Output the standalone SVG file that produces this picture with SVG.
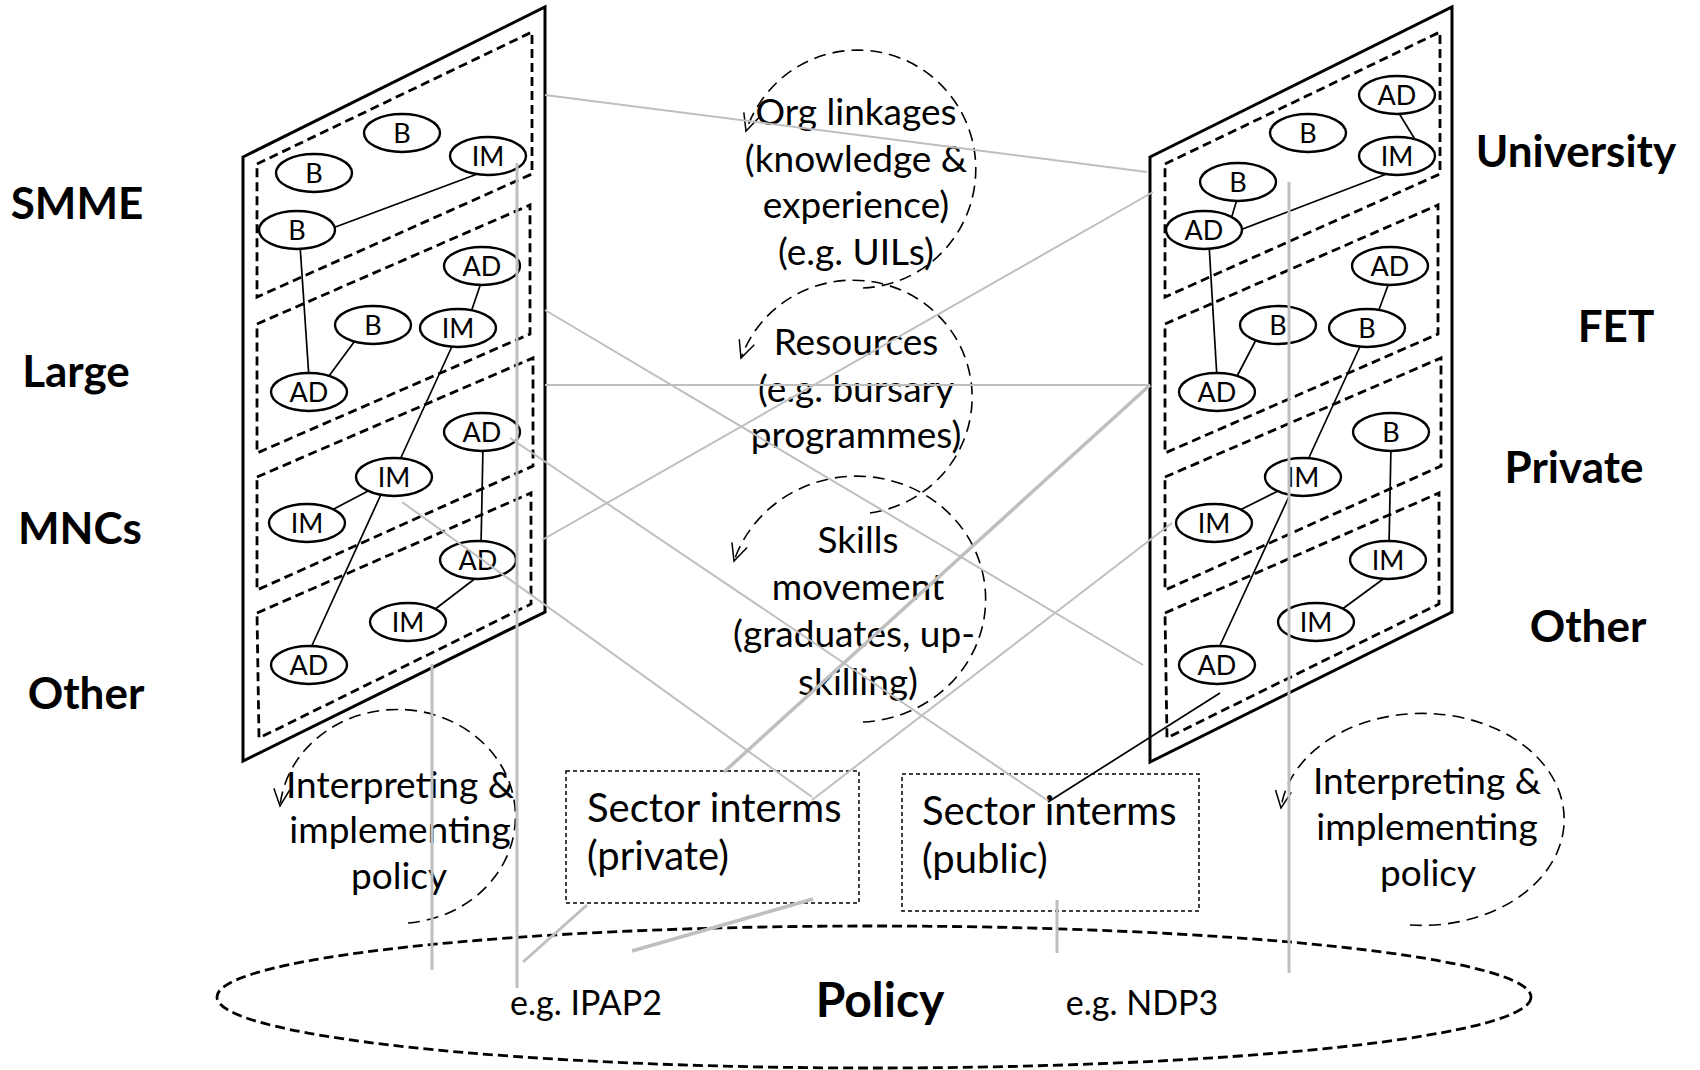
<svg xmlns="http://www.w3.org/2000/svg" width="1700" height="1070" viewBox="0 0 1700 1070">
<defs>
<style>
.panel{fill:#fff;stroke:#000;stroke-width:3}
.band{fill:none;stroke:#000;stroke-width:2.8;stroke-dasharray:9 5}
.nd{fill:#fff;stroke:#000;stroke-width:2.4}
.nt{font-family:Lato,"Liberation Sans",sans-serif;font-size:27px;text-anchor:middle;fill:#000}
.edge{stroke:#000;stroke-width:1.7;fill:none}
.lbl{font-family:Lato,"Liberation Sans",sans-serif;font-weight:bold;font-size:44px;text-anchor:middle;fill:#000}
.mt{font-family:Lato,"Liberation Sans",sans-serif;font-size:37px;text-anchor:middle;fill:#000}
.st{font-family:Lato,"Liberation Sans",sans-serif;font-size:40px;fill:#000}
.pt{font-family:Lato,"Liberation Sans",sans-serif;font-size:34px;text-anchor:middle;fill:#000}
.cyc{fill:none;stroke:#000;stroke-width:1.6;stroke-dasharray:12 7}
.box{fill:none;stroke:#000;stroke-width:1.5;stroke-dasharray:4 3}
.gl{stroke:#bfbfbf;stroke-width:2;fill:none}
.gt{stroke:#bfbfbf;stroke-width:3.5;fill:none}
.gv{stroke:#bfbfbf;stroke-width:3;fill:none}
.bl{stroke:#000;stroke-width:1.7;fill:none}
</style>
<marker id="arr" viewBox="0 0 20 20" refX="18" refY="10" markerWidth="20" markerHeight="20" markerUnits="userSpaceOnUse" orient="auto">
<path d="M1,2 L18,10 L1,18" fill="none" stroke="#000" stroke-width="1.5"/>
</marker>
</defs>
<rect width="1700" height="1070" fill="#fff"/>

<!-- Left panel -->
<g id="panel-left">
<polygon class="panel" points="243,157 545,7 545,612 243,761"/>
<polygon class="band" points="257,164 532,32 532,174 257,297"/>
<polygon class="band" points="257,324 530,205 530,334 257,453"/>
<polygon class="band" points="257,477 533,358 533,466 257,590"/>
<polygon class="band" points="257,613 531,493 531,604 259,738"/>
</g>
<g id="panel-right">
<polygon class="panel" points="1150,157 1452,7 1452,612 1150,762"/>
<polygon class="band" points="1165,164 1440,32 1440,174 1165,297"/>
<polygon class="band" points="1165,324 1438,205 1438,334 1165,453"/>
<polygon class="band" points="1165,477 1441,358 1441,466 1165,590"/>
<polygon class="band" points="1165,613 1439,493 1439,604 1167,738"/>
</g>

<g id="node-edges">
<path class="edge" d="M330,229 L488,170"/>
<path class="edge" d="M300,245 L309,378"/>
<path class="edge" d="M357,338 L326,380"/>
<path class="edge" d="M482,280 L469,318"/>
<path class="edge" d="M454,342 L398,464"/>
<path class="edge" d="M370,490 L330,511"/>
<path class="edge" d="M383,490 L309,652"/>
<path class="edge" d="M483,446 L481,546"/>
<path class="edge" d="M481,574 L434,610"/>
<path class="edge" d="M1397,110 L1419,146"/>
<path class="edge" d="M1238,196 L1232,216"/>
<path class="edge" d="M1240,230 L1397,170"/>
<path class="edge" d="M1209,244 L1217,378"/>
<path class="edge" d="M1257,338 L1235,380"/>
<path class="edge" d="M1390,280 L1377,315"/>
<path class="edge" d="M1363,340 L1306,464"/>
<path class="edge" d="M1280,490 L1238,511"/>
<path class="edge" d="M1292,490 L1217,652"/>
<path class="edge" d="M1391,446 L1389,546"/>
<path class="edge" d="M1390,574 L1341,610"/>
</g>

<!-- Left nodes -->
<g id="L1"><ellipse class="nd" cx="402" cy="133" rx="38" ry="19"/><text class="nt" x="402" y="143">B</text></g>
<g id="L2"><ellipse class="nd" cx="314" cy="173" rx="38" ry="19"/><text class="nt" x="314" y="183">B</text></g>
<g id="L3"><ellipse class="nd" cx="488" cy="156" rx="38" ry="19"/><text class="nt" x="488" y="166">IM</text></g>
<g id="L4"><ellipse class="nd" cx="297" cy="230" rx="38" ry="19"/><text class="nt" x="297" y="240">B</text></g>
<g id="L5"><ellipse class="nd" cx="482" cy="266" rx="38" ry="19"/><text class="nt" x="482" y="276">AD</text></g>
<g id="L6"><ellipse class="nd" cx="373" cy="325" rx="38" ry="19"/><text class="nt" x="373" y="335">B</text></g>
<g id="L7"><ellipse class="nd" cx="458" cy="328" rx="38" ry="19"/><text class="nt" x="458" y="338">IM</text></g>
<g id="L8"><ellipse class="nd" cx="309" cy="392" rx="38" ry="19"/><text class="nt" x="309" y="402">AD</text></g>
<g id="L9"><ellipse class="nd" cx="482" cy="432" rx="38" ry="19"/><text class="nt" x="482" y="442">AD</text></g>
<g id="L10"><ellipse class="nd" cx="394" cy="477" rx="38" ry="19"/><text class="nt" x="394" y="487">IM</text></g>
<g id="L11"><ellipse class="nd" cx="307" cy="523" rx="38" ry="19"/><text class="nt" x="307" y="533">IM</text></g>
<g id="L12"><ellipse class="nd" cx="478" cy="560" rx="38" ry="19"/><text class="nt" x="478" y="570">AD</text></g>
<g id="L13"><ellipse class="nd" cx="408" cy="622" rx="38" ry="19"/><text class="nt" x="408" y="632">IM</text></g>
<g id="L14"><ellipse class="nd" cx="309" cy="665" rx="38" ry="19"/><text class="nt" x="309" y="675">AD</text></g>

<!-- Right nodes -->
<g id="R1"><ellipse class="nd" cx="1397" cy="95" rx="38" ry="19"/><text class="nt" x="1397" y="105">AD</text></g>
<g id="R2"><ellipse class="nd" cx="1308" cy="133" rx="38" ry="19"/><text class="nt" x="1308" y="143">B</text></g>
<g id="R3"><ellipse class="nd" cx="1397" cy="156" rx="38" ry="19"/><text class="nt" x="1397" y="166">IM</text></g>
<g id="R4"><ellipse class="nd" cx="1238" cy="182" rx="38" ry="19"/><text class="nt" x="1238" y="192">B</text></g>
<g id="R5"><ellipse class="nd" cx="1204" cy="230" rx="38" ry="19"/><text class="nt" x="1204" y="240">AD</text></g>
<g id="R6"><ellipse class="nd" cx="1390" cy="266" rx="38" ry="19"/><text class="nt" x="1390" y="276">AD</text></g>
<g id="R7"><ellipse class="nd" cx="1278" cy="325" rx="38" ry="19"/><text class="nt" x="1278" y="335">B</text></g>
<g id="R8"><ellipse class="nd" cx="1367" cy="328" rx="38" ry="19"/><text class="nt" x="1367" y="338">B</text></g>
<g id="R9"><ellipse class="nd" cx="1217" cy="392" rx="38" ry="19"/><text class="nt" x="1217" y="402">AD</text></g>
<g id="R10"><ellipse class="nd" cx="1391" cy="432" rx="38" ry="19"/><text class="nt" x="1391" y="442">B</text></g>
<g id="R11"><ellipse class="nd" cx="1303" cy="477" rx="38" ry="19"/><text class="nt" x="1303" y="487">IM</text></g>
<g id="R12"><ellipse class="nd" cx="1214" cy="523" rx="38" ry="19"/><text class="nt" x="1214" y="533">IM</text></g>
<g id="R13"><ellipse class="nd" cx="1388" cy="560" rx="38" ry="19"/><text class="nt" x="1388" y="570">IM</text></g>
<g id="R14"><ellipse class="nd" cx="1316" cy="622" rx="38" ry="19"/><text class="nt" x="1316" y="632">IM</text></g>
<g id="R15"><ellipse class="nd" cx="1217" cy="665" rx="38" ry="19"/><text class="nt" x="1217" y="675">AD</text></g>

<!-- Side labels -->
<g id="labels-left">
<text class="lbl" x="77" y="219">SMME</text>
<text class="lbl" x="76" y="387">Large</text>
<text class="lbl" x="80" y="544">MNCs</text>
<text class="lbl" x="86" y="709">Other</text>
</g>
<g id="labels-right">
<text class="lbl" x="1576" y="167">University</text>
<text class="lbl" x="1616" y="342">FET</text>
<text class="lbl" x="1574" y="483">Private</text>
<text class="lbl" x="1588" y="642">Other</text>
</g>

<!-- Cycles -->
<g id="cycle-org">
<path class="cyc" d="M863,288 A118,119 0 1,0 746,131" marker-end="url(#arr)"/>
<text class="mt" x="856" y="125">Org linkages</text>
<text class="mt" x="856" y="172">(knowledge &amp;</text>
<text class="mt" x="856" y="218">experience)</text>
<text class="mt" x="856" y="265">(e.g. UILs)</text>
</g>
<g id="cycle-resources">
<path class="cyc" d="M870,513 A119,117 0 1,0 741,358" marker-end="url(#arr)"/>
<text class="mt" x="856" y="355">Resources</text>
<text class="mt" x="856" y="402">(e.g. bursary</text>
<text class="mt" x="856" y="448">programmes)</text>
</g>
<g id="cycle-skills">
<path class="cyc" d="M863,722 A129,123 0 1,0 734,561" marker-end="url(#arr)"/>
<text class="mt" x="858" y="553">Skills</text>
<text class="mt" x="858" y="600">movement</text>
<text class="mt" x="854" y="647">(graduates, up-</text>
<text class="mt" x="858" y="695">skilling)</text>
</g>
<g id="cycle-interp-left">
<path class="cyc" d="M408,923 A118,107 0 1,0 280,806" marker-end="url(#arr)"/>
<text class="mt" x="400" y="798">Interpreting &amp;</text>
<text class="mt" x="400" y="843">implementing</text>
<text class="mt" x="399" y="889">policy</text>
</g>
<g id="cycle-interp-right">
<path class="cyc" d="M1410,925 A142,106 0 1,0 1281,808" marker-end="url(#arr)"/>
<text class="mt" x="1427" y="794">Interpreting &amp;</text>
<text class="mt" x="1427" y="840">implementing</text>
<text class="mt" x="1428" y="886">policy</text>
</g>

<!-- Sector boxes -->
<g id="sector-private">
<rect class="box" x="566" y="771" width="293" height="132"/>
<text class="st" x="587" y="822">Sector interms</text>
<text class="st" x="587" y="870">(private)</text>
</g>
<g id="sector-public">
<rect class="box" x="902" y="774" width="297" height="137"/>
<text class="st" x="922" y="825">Sector interms</text>
<text class="st" x="922" y="873">(public)</text>
</g>

<!-- Policy -->
<g id="policy">
<ellipse cx="874" cy="997" rx="657" ry="71" fill="none" stroke="#000" stroke-width="2.8" stroke-dasharray="10 5"/>
<text x="880" y="1017" font-family="Lato, 'Liberation Sans', sans-serif" font-weight="bold" font-size="48" text-anchor="middle">Policy</text>
<text class="pt" x="586" y="1015">e.g. IPAP2</text>
<text class="pt" x="1142" y="1015">e.g. NDP3</text>
</g>

<!-- Connectors -->
<g id="connectors">
<path class="gl" d="M545,95 L1147,172"/>
<path class="gl" d="M1153,192 L542,540"/>
<path class="gl" d="M545,310 L1143,665"/>
<path class="gl" d="M545,385 L1150,385"/>
<path class="gt" d="M1150,385 L724,772"/>
<path class="gl" d="M510,438 L1050,802"/>
<path class="gl" d="M402,502 L812,797"/>
<path class="gl" d="M1172,523 L812,800"/>
<path class="gv" d="M517,163 L517,988"/>
<path class="gv" d="M432,664 L432,970"/>
<path class="gv" d="M1289,182 L1289,973"/>
<path class="gv" d="M587,905 L523,962"/>
<path class="gt" d="M813,899 L632,951"/>
<path class="gv" d="M1057,900 L1057,953"/>
<path class="bl" d="M1220,693 L1048,802"/>
</g>
</svg>
